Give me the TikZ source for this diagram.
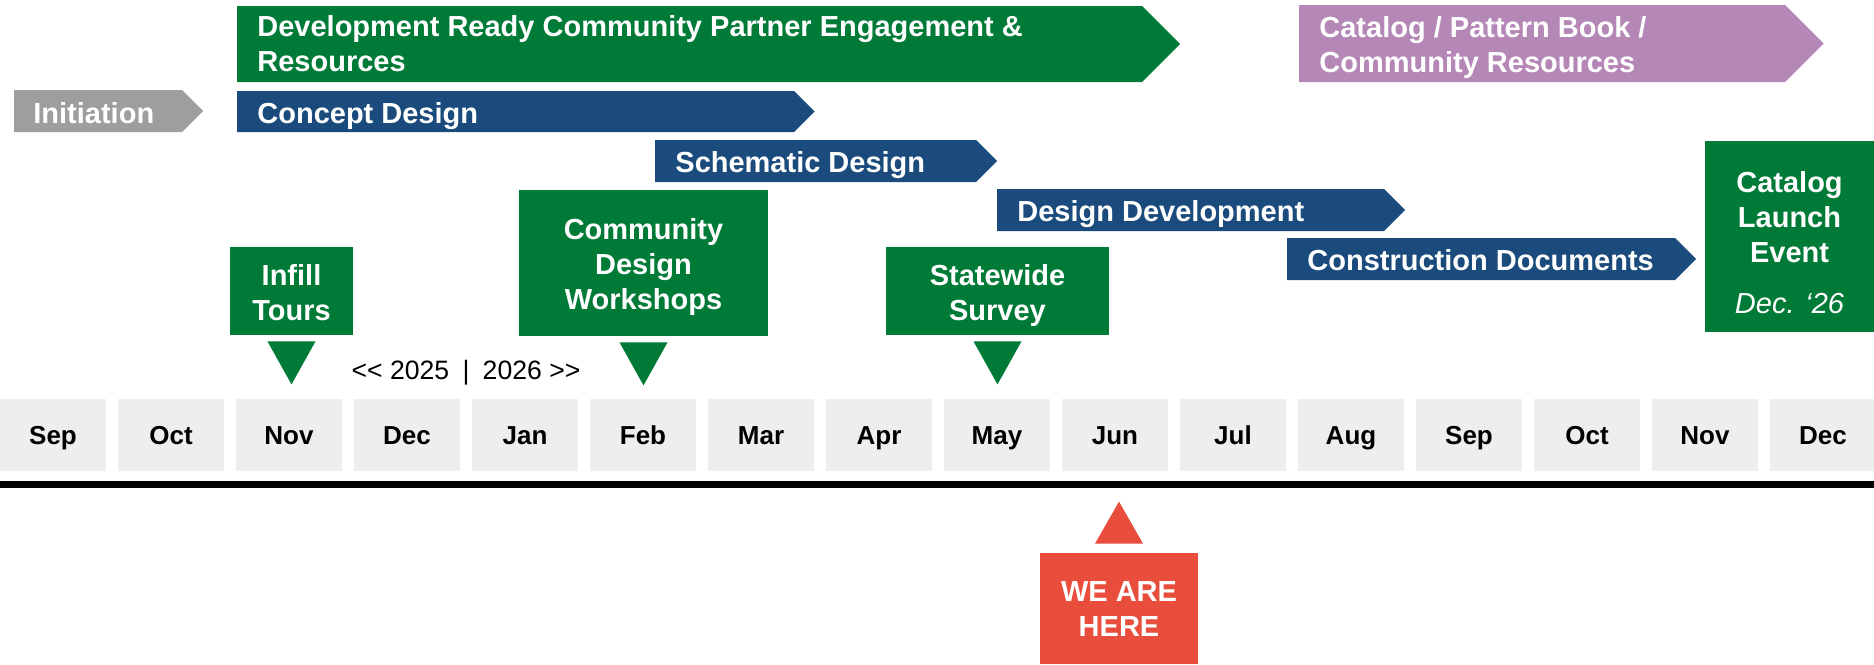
\documentclass[tikz,border=0pt]{standalone}
\usepackage{fontspec}
\setmainfont{Liberation Sans}
\usepackage{xcolor}
\usetikzlibrary{calc}
\definecolor{PlanGreen}{HTML}{007A37}
\definecolor{PlanBlue}{HTML}{1A4B7C}
\definecolor{PlanPurple}{HTML}{B587B7}
\definecolor{PlanGray}{HTML}{9E9E9E}
\definecolor{PlanRed}{HTML}{E84E3B}
\definecolor{MonthGray}{HTML}{EEEEEE}
% chevron bar: colour, left x, body end x, mid y, half height
\newcommand{\phasebar}[5]{%
  \fill[#1] (#2,{#4-#5}) -- (#3,{#4-#5}) -- ({#3+#5},#4) -- (#3,{#4+#5}) -- (#2,{#4+#5}) -- cycle;}
\tikzset{
  phase/.style={anchor=west,inner sep=0pt,text=white,align=left,
                font=\bfseries\fontsize{14.5}{17.5}\selectfont,text height=10.4pt,text depth=0pt},
  twoline/.style={text height=27.9pt},
  milestone/.style={fill=PlanGreen,text=white,align=center,inner sep=0pt,
                font=\bfseries\fontsize{14.5}{17.5}\selectfont,text depth=0pt},
  month/.style={fill=MonthGray,minimum width=53pt,minimum height=36pt,inner sep=0pt,
                font=\bfseries\fontsize{13}{15}\selectfont,text height=9.3pt,text depth=0pt},
  pin/.style={fill=PlanGreen},
  herepin/.style={fill=PlanRed}
}

\begin{document}
\begin{tikzpicture}[x=0.5pt,y=-0.5pt]
  \useasboundingbox (0,0) rectangle (1874,664);

  % phase bars
  \phasebar{PlanGreen}{237}{1142}{44}{38}
  \node[phase,twoline] (engage) at (257,44) {Development Ready Community Partner Engagement \&\\Resources};
  \phasebar{PlanPurple}{1299}{1785}{43.5}{38.5}
  \node[phase,twoline] (catalog) at (1319,45) {Catalog / Pattern Book /\\Community Resources};
  \phasebar{PlanGray}{14}{182}{111}{21}
  \node[phase] (init) at (33,113) {Initiation};
  \phasebar{PlanBlue}{237}{794}{111.5}{20.5}
  \node[phase] (concept) at (257,113.5) {Concept Design};
  \phasebar{PlanBlue}{655}{976}{161}{21}
  \node[phase] (schematic) at (675,162.5) {Schematic Design};
  \phasebar{PlanBlue}{997}{1384}{210}{21}
  \node[phase] (devdev) at (1017,211.5) {Design Development};
  \phasebar{PlanBlue}{1287}{1675}{259}{21}
  \node[phase] (cd) at (1307,260) {Construction Documents};

  % milestones
  \node[milestone,minimum width=61.5pt,minimum height=44pt,text height=29pt] (infill) at (291.5,291) {Infill\\Tours};
  \node[milestone,minimum width=124.5pt,minimum height=73pt,text height=46.5pt] (workshops) at (643.5,263) {Community\\Design\\Workshops};
  \node[milestone,minimum width=111.5pt,minimum height=44pt,text height=29pt] (survey) at (997.5,291) {Statewide\\Survey};
  \node[milestone,minimum width=84.5pt,minimum height=95.5pt,text height=77pt] (launch) at (1789.5,236.5)
        {Catalog\\Launch\\Event\\[8pt]{\mdseries\itshape Dec. ‘26}};
  \foreach \ms in {infill,workshops,survey}
    \fill[pin] ($(\ms.south)+(-24,6)$) -- ($(\ms.south)+(24,6)$) -- ($(\ms.south)+(0,49)$) -- cycle;

  \node[anchor=base,inner sep=0pt,font=\fontsize{13.3}{15}\selectfont] (years) at (466,379)
    {<\kern0pt< 2025\enspace|\enspace 2026 >\kern0pt>};

  % months
  \foreach \m [count=\i from 0] in {Sep,Oct,Nov,Dec,Jan,Feb,Mar,Apr,May,Jun,Jul,Aug,Sep,Oct,Nov,Dec}
    \node[month] (m\i) at ({118*\i+53},435) {\m};

  \coordinate (axisstart) at (0,484.5);
  \coordinate (axisend) at (1874,484.5);
  \draw[line width=3.5pt] (axisstart) -- (axisend);

  % current position
  \node[fill=PlanRed,text=white,align=center,inner sep=0pt,minimum width=79pt,minimum height=55.5pt,
        font=\bfseries\fontsize{14.5}{17.5}\selectfont,text height=27.9pt,text depth=0pt] (here) at (1119,608.5) {WE ARE\\HERE};
  \fill[herepin] ($(here.north)+(-24,-9)$) -- ($(here.north)+(24,-9)$) -- ($(here.north)+(0,-51)$) -- cycle;
\end{tikzpicture}
\end{document}
